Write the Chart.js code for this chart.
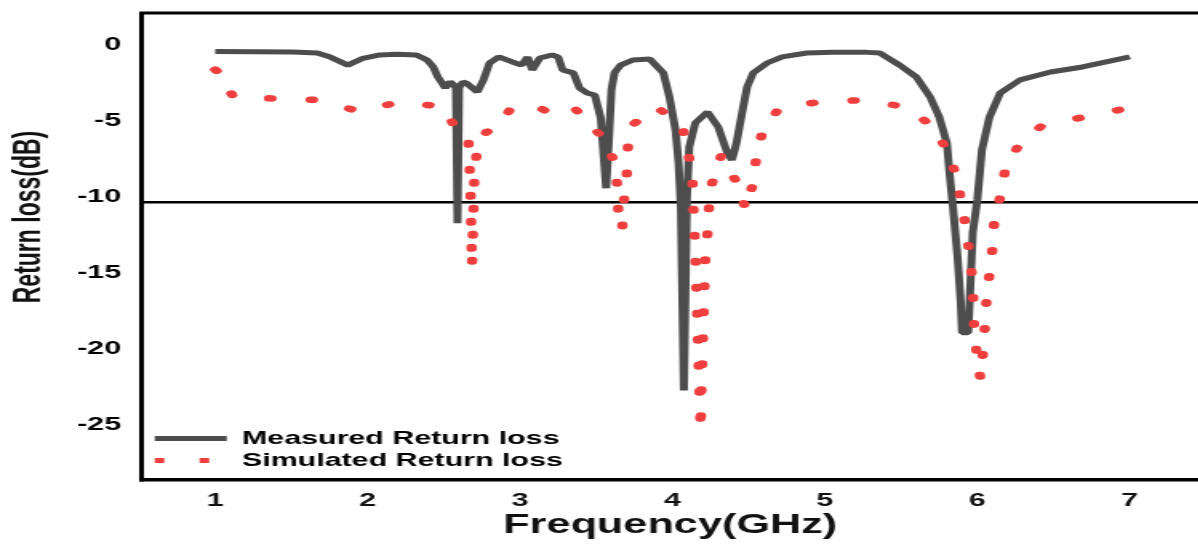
<!DOCTYPE html>
<html>
<head>
<meta charset="utf-8">
<script src="https://cdn.jsdelivr.net/npm/chart.js@4.4.1/dist/chart.umd.min.js"></script>
<style>
  html, body { margin: 0; padding: 0; background: #fff; overflow: hidden; }
  #wrap { width: 1198px; height: 553px; overflow: hidden; }
  /* the original figure is stretched sideways, so the canvas is too */
  #chart { display: block; transform: scaleX(1.6); transform-origin: 0 0; }
</style>
</head>
<body>
<div id="wrap"><canvas id="chart" width="749" height="553"></canvas></div>
<script>
// measured return loss (GHz, dB)
var measuredFreq = [1.00, 1.51, 1.67, 1.75, 1.87, 1.97, 2.08, 2.19, 2.32, 2.39, 2.43, 2.46, 2.51, 2.54, 2.565,
  2.58, 2.59, 2.60, 2.625, 2.65, 2.72, 2.76, 2.80, 2.86, 2.95, 3.01, 3.05, 3.08, 3.13, 3.21, 3.25, 3.28,
  3.35, 3.39, 3.44, 3.49, 3.53, 3.565, 3.585, 3.60, 3.62, 3.66, 3.74, 3.85, 3.94, 3.98, 4.02, 4.04, 4.055,
  4.075, 4.095, 4.11, 4.15, 4.23, 4.30, 4.36, 4.39, 4.42, 4.46, 4.49, 4.53, 4.62, 4.72, 4.88, 5.05, 5.28,
  5.36, 5.49, 5.60, 5.69, 5.75, 5.80, 5.82, 5.84, 5.87, 5.89, 5.90, 5.94, 5.95, 5.97, 6.00, 6.03, 6.08,
  6.15, 6.28, 6.48, 6.69, 7.00];
var measuredLoss = [-0.11, -0.13, -0.2, -0.45, -1.0, -0.55, -0.33, -0.28, -0.33, -0.66, -1.1, -1.76, -2.5, -2.1, -2.3,
  -2.5, -11.4, -2.5, -2.1, -2.2, -2.76, -1.97, -0.86, -0.46, -0.79, -1.0, -0.46, -1.32, -0.53, -0.33, -0.46, -1.32,
  -1.51, -2.5, -2.83, -2.96, -4.5, -9.1, -5.5, -2.6, -1.5, -1.0, -0.66, -0.59, -1.51, -3.09, -5.26, -7.43, -10.3,
  -22.4, -9.7, -6.4, -4.8, -4.08, -5.07, -6.78, -7.24, -6.12, -3.95, -2.43, -1.51, -0.86, -0.46, -0.2, -0.16, -0.16,
  -0.2, -1.0, -1.78, -3.09, -4.41, -6.12, -8.36, -10.33, -13.6, -16.45, -18.6, -18.6, -16.45, -12.0, -9.87, -6.58, -4.41,
  -2.83, -1.97, -1.45, -1.12, -0.46];

// simulated return loss (GHz, dB)
var simulatedFreq = [1.00, 1.02, 1.12, 1.39, 1.70, 1.95, 2.21, 2.50, 2.59, 2.66, 2.675, 2.685, 2.70, 2.72, 2.78,
  2.86, 2.95, 3.13, 3.21, 3.35, 3.46, 3.56, 3.62, 3.64, 3.645, 3.67, 3.68, 3.70, 3.705, 3.72, 3.89, 4.06,
  4.10, 4.13, 4.135, 4.15, 4.16, 4.17, 4.18, 4.185, 4.19, 4.20, 4.21, 4.215, 4.23, 4.24, 4.26, 4.32, 4.42,
  4.48, 4.53, 4.55, 4.59, 4.70, 4.98, 5.30, 5.57, 5.73, 5.82, 5.87, 5.90, 5.93, 5.95, 5.97, 5.975, 5.98,
  6.00, 6.02, 6.04, 6.05, 6.06, 6.08, 6.10, 6.11, 6.15, 6.18, 6.26, 6.42, 6.70, 7.00];
var simulatedLoss = [-1.3, -1.45, -3.09, -3.2, -3.3, -4.08, -3.4, -3.75, -5.4, -5.66, -9.0, -14.3, -8.5, -6.3, -5.4,
  -5.07, -3.68, -3.82, -4.21, -3.75, -4.93, -5.92, -7.43, -9.08, -10.8, -11.84, -10.07, -8.36, -6.7, -5.07, -3.75, -4.87,
  -6.58, -8.22, -9.87, -13.3, -16.6, -19.9, -23.4, -25.0, -22.2, -18.8, -15.5, -13.75, -12.04, -10.33, -8.75, -6.95, -8.68,
  -10.45, -8.75, -7.04, -5.39, -3.82, -3.4, -3.29, -3.88, -5.33, -6.97, -8.62, -10.26, -11.97, -13.6, -15.3, -16.97, -18.6,
  -20.3, -21.6, -19.7, -18.1, -16.45, -14.7, -13.0, -11.4, -9.67, -8.03, -6.45, -5.0, -4.41, -3.8];

var xTicks = [1, 2, 3, 4, 5, 6, 7];
var yTicks = [-25, -20, -15, -10, -5, 0];

var measuredColor = '#4d4d4d';
var simulatedColor = '#ef3e3e';

function toPoints(xs, ys) {
  return xs.map(function (x, i) { return {x: x, y: ys[i]}; });
}

Chart.defaults.font.family = "'Liberation Sans', Arial, sans-serif";
Chart.defaults.color = '#111';

// top edge of the plot frame
var framePlugin = {
  id: 'frame',
  afterDatasetsDraw: function (chart) {
    var ctx = chart.ctx, a = chart.chartArea;
    ctx.save();
    ctx.strokeStyle = '#000';
    ctx.lineWidth = 3;
    ctx.beginPath();
    ctx.moveTo(a.left - 1.5, a.top);
    ctx.lineTo(a.right, a.top);
    ctx.stroke();
    ctx.restore();
  }
};

// y axis title, sits a bit above the middle like the original
var yTitlePlugin = {
  id: 'yTitle',
  afterDraw: function (chart) {
    var ctx = chart.ctx;
    ctx.save();
    ctx.translate(25, 217);
    ctx.rotate(-Math.PI / 2);
    ctx.font = "bold 23px 'Liberation Sans', Arial, sans-serif";
    ctx.fillStyle = '#111';
    ctx.textAlign = 'center';
    ctx.textBaseline = 'alphabetic';
    ctx.fillText('Return loss(dB)', 0, 0);
    ctx.restore();
  }
};

// put the in-plot legend where it sits in the figure
var legendNudge = {
  id: 'legendNudge',
  afterLayout: function (chart) {
    if (chart.legend) {
      chart.legend.left = chart.chartArea.left + 5;
      chart.legend.bottom = chart.chartArea.bottom - 7;
    }
  }
};

var ctx = document.getElementById('chart');
var chart = new Chart(ctx, {
  type: 'line',
  data: {
    datasets: [
      {
        label: 'Measured Return loss',
        data: toPoints(measuredFreq, measuredLoss),
        borderColor: measuredColor,
        borderWidth: 5,
        borderJoinStyle: 'bevel',
        pointRadius: 0,
        tension: 0,
        fill: false,
        order: 1
      },
      {
        label: 'Simulated Return loss',
        data: toPoints(simulatedFreq, simulatedLoss),
        borderColor: simulatedColor,
        borderWidth: 6.5,
        borderDash: [1.5, 24.5],
        borderCapStyle: 'round',
        pointRadius: 0,
        tension: 0,
        fill: false,
        order: 0
      }
    ]
  },
  options: {
    responsive: false,
    devicePixelRatio: 1,
    animation: false,
    layout: { padding: { top: 13, left: 0, right: 0, bottom: 0 } },
    plugins: {
      tooltip: { enabled: false },
      legend: {
        display: true,
        position: 'chartArea',
        align: 'end',
        labels: {
          usePointStyle: true,
          pointStyleWidth: 45,
          boxWidth: 45,
          padding: 3,
          color: '#111',
          font: { size: 19, weight: 'bold' },
          generateLabels: function () {
            return [
              { text: 'Measured Return loss', pointStyle: 'line', strokeStyle: measuredColor, fillStyle: measuredColor,
                lineWidth: 5, lineDash: [], lineCap: 'butt', datasetIndex: 0 },
              { text: 'Simulated Return loss', pointStyle: 'line', strokeStyle: simulatedColor, fillStyle: simulatedColor,
                lineWidth: 5, lineDash: [6, 22], lineCap: 'butt', datasetIndex: 1 }
            ];
          }
        }
      }
    },
    scales: {
      x: {
        type: 'linear',
        min: 0.52,
        max: 7.45,
        afterBuildTicks: function (s) { s.ticks = xTicks.map(function (v) { return {value: v}; }); },
        afterFit: function (s) { s.height = 73; s.paddingLeft = 0; s.paddingRight = 0; },
        grid: { display: false, drawTicks: false },
        border: { display: true, color: '#000', width: 3.5 },
        ticks: {
          padding: 9,
          color: '#111',
          font: { size: 19, weight: 'bold' },
          callback: function (v) { return String(v); }
        },
        title: {
          display: true,
          text: 'Frequency(GHz)',
          color: '#111',
          font: { size: 27, weight: 'bold' },
          padding: { top: 0, bottom: 11 }
        }
      },
      y: {
        type: 'linear',
        min: -28.29,
        max: 2.43,
        afterBuildTicks: function (s) { s.ticks = yTicks.map(function (v) { return {value: v}; }); },
        afterFit: function (s) { s.width = 88.75; s.paddingTop = 0; s.paddingBottom = 0; },
        grid: {
          drawTicks: false,
          lineWidth: 2.5,
          color: function (c) { return (c.tick && c.tick.value === -10) ? '#000' : 'rgba(0,0,0,0)'; }
        },
        border: { display: true, color: '#000', width: 3 },
        ticks: {
          padding: 13,
          labelOffset: -5,
          color: '#000',
          font: { size: 19, weight: 'bold' },
          callback: function (v) { return String(v); }
        }
      }
    }
  },
  plugins: [framePlugin, yTitlePlugin, legendNudge]
});
</script>
</body>
</html>
